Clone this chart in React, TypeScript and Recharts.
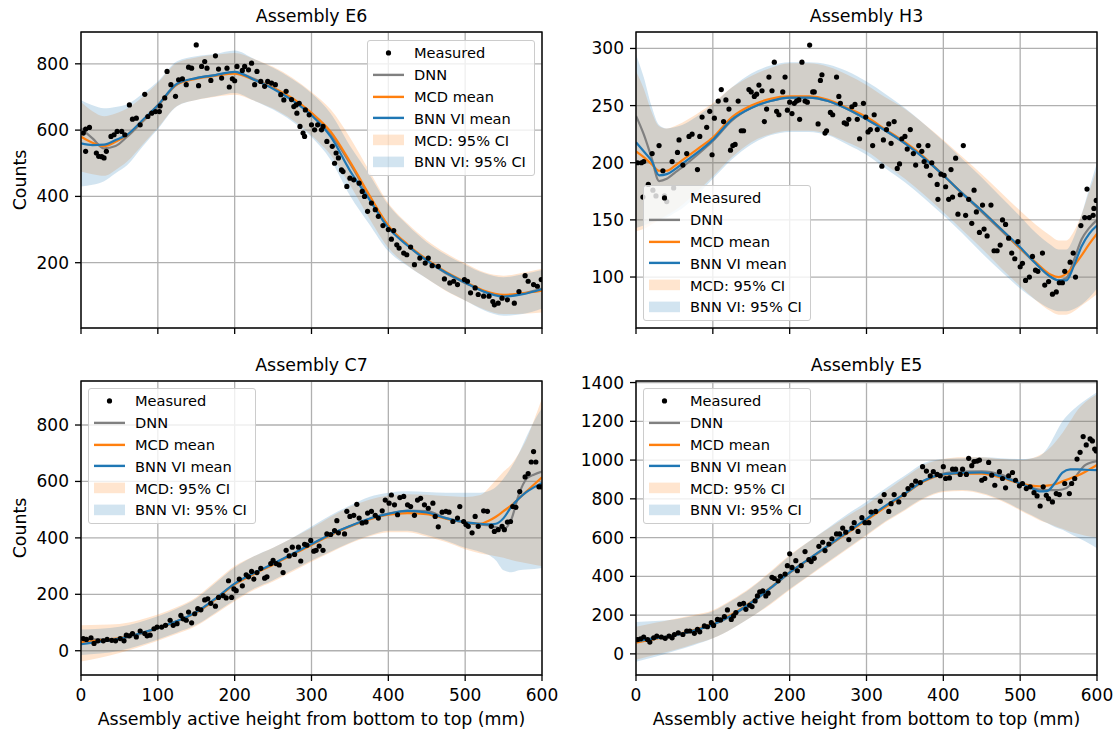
import React from "react";
import {
  ComposedChart,
  Line,
  Area,
  Scatter,
  XAxis,
  YAxis,
  CartesianGrid,
} from "recharts";

const FONT = "'DejaVu Sans', 'Liberation Sans', sans-serif";
const X_TICKS = [0, 100, 200, 300, 400, 500, 600];
const X_LABEL = "Assembly active height from bottom to top (mm)";
const Y_LABEL = "Counts";
const LEGEND_LABELS = ["Measured", "DNN", "MCD mean", "BNN VI mean", "MCD: 95% CI", "BNN VI: 95% CI"];

// ---- Assembly E6 ----
const e6X = [0, 15, 30, 45, 60, 80, 100, 125, 150, 175, 200, 225, 250, 275, 300, 325, 350, 375, 400, 425, 450, 475, 500, 525, 550, 575, 600];
const e6Dnn = [605, 575, 545, 552, 580, 625, 672, 738, 757, 766, 774, 755, 728, 692, 648, 588, 500, 400, 310, 252, 206, 168, 139, 113, 100, 107, 122];
const e6Mcd = [580, 562, 552, 565, 585, 628, 675, 738, 755, 764, 770, 752, 728, 696, 652, 595, 505, 405, 312, 255, 210, 172, 142, 115, 103, 108, 116];
const e6Bnn = [560, 555, 556, 570, 586, 630, 675, 740, 757, 766, 776, 752, 725, 690, 645, 580, 478, 392, 305, 252, 207, 170, 140, 112, 98, 105, 120];
const e6McdHi = [685, 657, 642, 650, 665, 700, 743, 803, 819, 827, 833, 815, 791, 758, 715, 662, 578, 478, 380, 318, 268, 229, 198, 171, 161, 170, 182];
const e6McdLo = [475, 467, 462, 480, 505, 556, 607, 673, 691, 701, 707, 689, 665, 631, 584, 525, 435, 335, 245, 192, 152, 115, 86, 59, 45, 46, 50];
const e6BnnHi = [690, 675, 666, 670, 678, 710, 747, 808, 823, 830, 840, 815, 788, 754, 711, 650, 553, 467, 375, 314, 262, 224, 194, 168, 156, 165, 178];
const e6BnnLo = [430, 435, 446, 470, 494, 550, 603, 672, 691, 702, 712, 689, 662, 626, 579, 510, 403, 317, 235, 190, 152, 116, 86, 56, 40, 45, 62];
const e6Measured: [number, number][] = [
  [3, 591], [6, 603], [11, 608], [6, 536], [20, 531], [23, 521], [27, 520], [30, 516], [33, 536], [39, 581],
  [43, 586], [47, 596], [53, 596], [57, 586], [63, 676], [67, 633], [72, 636], [77, 616], [83, 708], [87, 641],
  [92, 651], [97, 656], [102, 656], [103, 673], [109, 697], [112, 777], [117, 737], [123, 702], [127, 752], [132, 755],
  [137, 737], [140, 790], [144, 787], [150, 857], [153, 734], [157, 792], [161, 807], [164, 787], [169, 750], [175, 824],
  [179, 784], [183, 757], [190, 787], [193, 730], [197, 755], [200, 749], [203, 792], [210, 780], [213, 792], [218, 782],
  [222, 802], [226, 737], [229, 777], [234, 747], [239, 732], [243, 747], [248, 742], [253, 737], [260, 707], [264, 691],
  [267, 717], [274, 692], [277, 671], [280, 676], [284, 681], [281, 651], [285, 611], [289, 591], [291, 581], [292, 661],
  [297, 646], [300, 616], [304, 601], [308, 616], [313, 601], [315, 611], [320, 566], [327, 551], [330, 500], [332, 531],
  [335, 516], [339, 480], [341, 475], [346, 430], [350, 455], [355, 450], [362, 440], [366, 415], [369, 400], [373, 355],
  [378, 380], [383, 360], [387, 340], [393, 312], [400, 300], [404, 271], [407, 297], [411, 254], [414, 244], [420, 229],
  [424, 224], [429, 247], [434, 194], [441, 214], [448, 199], [452, 214], [457, 191], [465, 189], [473, 151], [480, 139],
  [485, 144], [490, 134], [499, 149], [503, 144], [507, 109], [513, 124], [517, 104], [524, 99], [531, 99], [536, 83],
  [538, 73], [543, 78], [548, 93], [555, 88], [564, 78], [570, 113], [578, 161], [582, 144], [589, 134], [594, 129], [599, 149],
];

// ---- Assembly H3 ----
const h3X = [0, 10, 20, 30, 40, 50, 60, 80, 100, 125, 150, 175, 200, 225, 250, 275, 300, 325, 350, 375, 400, 425, 450, 475, 500, 520, 540, 550, 560, 570, 580, 590, 600];
const h3Dnn = [241, 225, 205, 184, 186, 191, 196, 207, 219, 237, 248, 254, 257, 257, 254, 247, 238, 228, 217, 204, 189, 173, 157, 141, 125, 112, 100, 97, 99, 115, 133, 143, 150];
const h3Mcd = [210, 205, 199, 193, 193, 197, 202, 212, 222, 240, 250, 256, 258, 258, 255, 248, 240, 229, 218, 205, 189, 173, 158, 142, 125, 113, 102, 100, 103, 110, 119, 129, 138];
const h3Bnn = [218, 210, 202, 189, 190, 194, 199, 209, 220, 238, 248, 254, 257, 257, 254, 247, 238, 228, 217, 204, 189, 173, 158, 142, 126, 112, 100, 97, 97, 110, 127, 138, 145];
const h3McdHi = [280, 265, 245, 232, 230, 232, 235, 243, 252, 266, 276, 283, 287, 287, 284, 277, 268, 257, 247, 234, 220, 205, 190, 174, 158, 146, 136, 132, 132, 140, 155, 175, 195];
const h3McdLo = [140, 142, 146, 150, 154, 158, 163, 175, 188, 205, 218, 225, 228, 228, 225, 218, 210, 198, 186, 172, 157, 141, 125, 108, 92, 80, 70, 67, 67, 70, 75, 80, 85];
const h3BnnHi = [295, 275, 250, 233, 230, 231, 233, 241, 251, 266, 278, 285, 288, 288, 286, 280, 271, 260, 248, 234, 219, 203, 187, 170, 153, 139, 128, 124, 124, 135, 155, 178, 200];
const h3BnnLo = [143, 145, 148, 150, 152, 156, 160, 172, 186, 203, 216, 224, 227, 227, 224, 216, 207, 195, 183, 169, 154, 138, 121, 105, 90, 80, 72, 70, 70, 72, 76, 82, 90];
const h3Measured: [number, number][] = [
  [2, 200], [7, 200], [10, 201], [9, 170], [16, 181], [22, 176], [21, 208], [26, 171], [30, 215], [37, 171],
  [40, 166], [49, 178], [35, 193], [47, 201], [54, 209], [56, 220], [61, 198], [66, 208], [69, 223], [73, 225],
  [80, 194], [83, 223], [86, 240], [92, 231], [96, 245], [99, 207], [102, 239], [107, 254], [111, 264], [114, 236],
  [117, 255], [121, 247], [123, 211], [126, 215], [129, 216], [133, 254], [137, 228], [140, 228], [147, 264], [150, 262],
  [154, 258], [157, 260], [160, 268], [164, 263], [167, 236], [170, 247], [173, 275], [177, 263], [180, 288], [183, 245],
  [186, 242], [191, 262], [194, 275], [197, 246], [200, 253], [203, 243], [206, 252], [209, 254], [212, 255], [213, 238],
  [216, 288], [220, 254], [223, 253], [226, 303], [230, 262], [232, 262], [237, 234], [240, 272], [242, 277], [246, 226],
  [248, 228], [253, 244], [256, 242], [261, 275], [264, 258], [266, 252], [271, 235], [274, 234], [277, 238], [281, 249],
  [285, 251], [288, 238], [291, 221], [296, 252], [299, 240], [302, 227], [305, 229], [308, 215], [310, 242], [314, 229],
  [320, 197], [322, 220], [326, 229], [329, 234], [332, 217], [336, 236], [340, 195], [343, 199], [346, 221], [350, 223],
  [353, 212], [357, 229], [361, 208], [364, 198], [368, 215], [372, 210], [375, 201], [378, 197], [380, 215], [383, 189],
  [385, 200], [392, 181], [393, 168], [397, 190], [401, 189], [403, 179], [407, 168], [410, 194], [412, 170], [416, 204],
  [419, 155], [422, 172], [426, 215], [429, 154], [433, 168], [437, 147], [440, 176], [443, 157], [447, 139], [451, 163],
  [453, 142], [457, 136], [462, 163], [466, 123], [470, 123], [474, 128], [477, 150], [481, 146], [485, 134], [489, 121],
  [493, 116], [497, 131], [500, 109], [503, 112], [507, 97], [512, 100], [516, 118], [520, 106], [523, 105], [529, 121],
  [532, 93], [537, 96], [542, 85], [547, 87], [551, 95], [555, 95], [558, 105], [565, 113], [569, 121], [572, 100],
  [579, 145], [584, 152], [587, 177], [590, 152], [595, 154], [596, 160], [599, 167],
];

// ---- Assembly C7 ----
const c7X = [0, 25, 50, 75, 100, 125, 150, 175, 200, 225, 250, 275, 300, 325, 350, 375, 400, 425, 450, 475, 500, 520, 530, 540, 550, 560, 570, 580, 590, 600];
const c7Dnn = [42, 40, 42, 58, 80, 105, 136, 184, 237, 273, 307, 342, 377, 412, 441, 467, 486, 497, 495, 470, 455, 447, 445, 438, 432, 465, 555, 610, 625, 635];
const c7Mcd = [30, 37, 45, 60, 80, 104, 135, 182, 235, 272, 305, 340, 375, 410, 440, 465, 482, 488, 484, 468, 455, 450, 460, 475, 495, 515, 540, 565, 590, 615];
const c7Bnn = [23, 32, 43, 60, 80, 105, 137, 185, 238, 275, 308, 343, 378, 413, 442, 468, 485, 496, 490, 470, 455, 450, 448, 450, 470, 510, 540, 563, 580, 595];
const c7McdHi = [90, 92, 95, 108, 128, 155, 190, 245, 300, 335, 365, 400, 435, 475, 510, 535, 550, 555, 553, 548, 545, 552, 575, 605, 635, 660, 700, 750, 820, 895];
const c7McdLo = [-38, -25, -8, 12, 35, 60, 88, 130, 175, 215, 245, 280, 315, 348, 380, 405, 420, 420, 405, 385, 360, 345, 340, 335, 330, 322, 315, 310, 305, 300];
const c7BnnHi = [75, 78, 85, 100, 122, 150, 185, 240, 295, 335, 365, 400, 440, 480, 515, 545, 560, 565, 563, 560, 560, 560, 565, 580, 610, 650, 700, 760, 815, 860];
const c7BnnLo = [-15, -10, 0, 18, 40, 65, 92, 135, 180, 220, 250, 285, 320, 352, 383, 408, 425, 425, 410, 390, 365, 350, 340, 320, 285, 278, 285, 288, 290, 293];
const c7Measured: [number, number][] = [
  [3, 43], [7, 40], [13, 46], [17, 26], [22, 35], [29, 35], [34, 40], [40, 37], [45, 35], [51, 43],
  [56, 35], [59, 55], [63, 53], [67, 61], [72, 49], [77, 70], [83, 61], [86, 53], [90, 55], [95, 78],
  [99, 84], [105, 84], [110, 90], [116, 108], [120, 90], [125, 96], [130, 125], [133, 113], [137, 108], [140, 137],
  [144, 99], [148, 131], [152, 149], [156, 145], [161, 180], [165, 184], [169, 168], [175, 158], [179, 189], [185, 195],
  [189, 187], [192, 248], [196, 189], [199, 219], [202, 213], [206, 254], [210, 230], [215, 269], [218, 262], [222, 281],
  [225, 254], [229, 277], [234, 292], [239, 257], [242, 262], [247, 309], [250, 320], [254, 309], [258, 304], [263, 277],
  [267, 356], [271, 336], [275, 367], [278, 341], [283, 367], [286, 318], [291, 377], [294, 374], [299, 391], [303, 353],
  [306, 356], [310, 371], [315, 356], [320, 414], [325, 412], [330, 426], [333, 461], [335, 418], [343, 414], [346, 494],
  [350, 476], [355, 480], [359, 519], [362, 470], [366, 453], [371, 456], [373, 488], [378, 494], [383, 480], [387, 470],
  [392, 496], [396, 534], [401, 523], [404, 552], [408, 517], [412, 482], [415, 543], [420, 547], [425, 517], [429, 511],
  [434, 480], [438, 534], [442, 540], [447, 517], [452, 505], [458, 523], [461, 476], [465, 439], [470, 491], [475, 494],
  [479, 491], [484, 458], [490, 470], [493, 511], [498, 458], [501, 447], [504, 441], [509, 418], [513, 476], [517, 441],
  [524, 496], [529, 494], [534, 441], [538, 423], [543, 429], [548, 441], [551, 429], [555, 456], [559, 458], [562, 511],
  [566, 508], [571, 564], [578, 616], [582, 628], [586, 669], [589, 706], [592, 669], [596, 581], [599, 581],
];

// ---- Assembly E5 ----
const e5X = [0, 25, 50, 75, 100, 125, 150, 175, 200, 225, 250, 275, 300, 325, 350, 375, 400, 425, 450, 475, 500, 515, 525, 535, 545, 555, 565, 575, 585, 600];
const e5Dnn = [75, 82, 95, 120, 150, 198, 262, 338, 418, 488, 555, 625, 693, 762, 826, 893, 930, 940, 942, 925, 880, 858, 848, 845, 845, 848, 870, 930, 975, 995];
const e5Mcd = [58, 77, 98, 123, 155, 205, 268, 342, 420, 488, 557, 623, 690, 758, 825, 890, 925, 930, 930, 910, 880, 868, 865, 868, 875, 890, 905, 920, 940, 975];
const e5Bnn = [66, 80, 97, 120, 152, 200, 265, 340, 420, 490, 559, 628, 697, 765, 827, 895, 926, 934, 936, 915, 879, 855, 838, 840, 880, 935, 952, 952, 950, 948];
const e5McdHi = [140, 160, 180, 200, 225, 280, 345, 425, 510, 580, 645, 710, 770, 840, 910, 975, 1005, 1015, 1015, 1005, 1000, 1010, 1025, 1050, 1090, 1140, 1200, 1260, 1300, 1340];
const e5McdLo = [-30, -5, 20, 50, 80, 130, 190, 255, 330, 400, 470, 540, 610, 680, 740, 800, 835, 840, 825, 790, 740, 710, 690, 675, 660, 645, 630, 620, 610, 600];
const e5BnnHi = [165, 170, 178, 195, 220, 275, 340, 420, 505, 580, 650, 720, 785, 855, 920, 985, 1005, 1010, 1015, 1010, 1005, 1010, 1020, 1060, 1130, 1200, 1245, 1280, 1310, 1350];
const e5BnnLo = [-40, -15, 15, 45, 80, 130, 190, 260, 335, 405, 475, 545, 615, 685, 745, 805, 840, 845, 830, 795, 745, 715, 695, 675, 655, 640, 620, 600, 580, 545];
const e5Measured: [number, number][] = [
  [2, 74], [6, 78], [10, 87], [15, 74], [18, 61], [23, 83], [27, 92], [33, 87], [38, 80], [43, 92],
  [47, 83], [50, 100], [55, 109], [61, 100], [66, 118], [70, 118], [76, 106], [80, 126], [83, 114], [89, 144],
  [93, 140], [98, 161], [101, 147], [106, 178], [110, 175], [115, 192], [119, 227], [124, 178], [127, 196], [130, 213],
  [135, 256], [140, 261], [143, 230], [148, 251], [151, 244], [155, 273], [158, 299], [161, 320], [165, 325], [169, 299],
  [172, 313], [177, 395], [180, 389], [185, 377], [188, 400], [194, 412], [197, 455], [200, 516], [203, 446], [208, 481],
  [210, 429], [215, 455], [220, 528], [225, 486], [228, 476], [232, 493], [238, 555], [243, 576], [246, 533], [251, 567],
  [255, 594], [261, 619], [265, 619], [269, 649], [273, 628], [277, 590], [281, 649], [284, 677], [289, 632], [294, 703],
  [298, 677], [303, 677], [306, 732], [312, 735], [318, 787], [323, 822], [329, 735], [332, 775], [336, 822], [342, 784],
  [349, 822], [354, 853], [359, 870], [364, 891], [370, 884], [373, 966], [378, 943], [383, 919], [387, 940], [392, 926],
  [396, 919], [400, 966], [403, 905], [408, 908], [412, 953], [416, 953], [422, 926], [425, 953], [430, 926], [433, 1009],
  [437, 971], [440, 992], [444, 995], [447, 1000], [450, 896], [454, 905], [459, 988], [463, 922], [467, 870], [473, 940],
  [477, 905], [481, 857], [485, 919], [490, 936], [494, 896], [499, 867], [503, 879], [508, 853], [513, 862], [518, 832],
  [522, 815], [526, 763], [530, 862], [534, 818], [537, 801], [542, 784], [547, 827], [551, 822], [558, 879], [564, 827],
  [567, 879], [571, 905], [574, 1005], [578, 1040], [582, 1121], [586, 1078], [591, 1109], [594, 1099], [597, 1057], [599, 1047],
];

const COLORS = { dnn: "#808080", mcd: "#ff7f0e", bnn: "#1f77b4" };
const PLOT_W = 461;

function buildRows(xs: number[], dnn: number[], mcd: number[], bnn: number[], mcdLo: number[], mcdHi: number[], bnnLo: number[], bnnHi: number[]) {
  return xs.map((x, i) => ({
    x,
    dnn: dnn[i],
    mcd: mcd[i],
    bnn: bnn[i],
    mcdBand: [mcdLo[i], mcdHi[i]],
    bnnBand: [bnnLo[i], bnnHi[i]],
  }));
}

const MeasuredDot = (props: any) => {
  const { cx, cy } = props;
  if (cx == null || cy == null) return null;
  return <circle cx={cx} cy={cy} r={2.6} fill="#000" />;
};

interface PanelProps {
  left: number;
  top: number;
  h: number;
  yDomain: [number, number];
  yTicks: number[];
  rows: any[];
  measured: [number, number][];
  xLabels: boolean;
}

const Panel = ({ left, top, h, yDomain, yTicks, rows, measured, xLabels }: PanelProps) => {
  const pts = measured.map(([x, y]) => ({ x, y }));
  const tickStyle = { fill: "#000", fontSize: 17, fontFamily: FONT };
  return (
    <div style={{ position: "absolute", left: left - 80, top: top - 10 }}>
      <ComposedChart
        width={80 + PLOT_W + 30}
        height={10 + h + 40}
        data={rows}
        margin={{ top: 10, right: 30, bottom: 0, left: 0 }}
      >
        <CartesianGrid stroke="#b0b0b0" strokeWidth={1.3} />
        <XAxis
          type="number"
          dataKey="x"
          domain={[0, 600]}
          ticks={X_TICKS}
          interval={0}
          allowDataOverflow
          height={40}
          tickSize={6}
          tickMargin={8}
          axisLine={false}
          tickLine={{ stroke: "#000", strokeWidth: 1.3 }}
          tick={tickStyle}
          tickFormatter={xLabels ? (v: number) => String(v) : () => ""}
        />
        <YAxis
          type="number"
          domain={yDomain}
          ticks={yTicks}
          interval={0}
          allowDataOverflow
          width={80}
          tickSize={6}
          tickMargin={6}
          axisLine={false}
          tickLine={{ stroke: "#000", strokeWidth: 1.3 }}
          tick={tickStyle}
        />
        <Area dataKey="mcdBand" type="monotone" stroke="none" fill={COLORS.mcd} fillOpacity={0.2} isAnimationActive={false} />
        <Area dataKey="bnnBand" type="monotone" stroke="none" fill={COLORS.bnn} fillOpacity={0.2} isAnimationActive={false} />
        <Scatter data={pts} dataKey="y" shape={MeasuredDot} isAnimationActive={false} />
        <Line dataKey="dnn" type="monotone" stroke={COLORS.dnn} strokeWidth={2.2} dot={false} activeDot={false} isAnimationActive={false} />
        <Line dataKey="mcd" type="monotone" stroke={COLORS.mcd} strokeWidth={2.2} dot={false} activeDot={false} isAnimationActive={false} />
        <Line dataKey="bnn" type="monotone" stroke={COLORS.bnn} strokeWidth={2.2} dot={false} activeDot={false} isAnimationActive={false} />
      </ComposedChart>
    </div>
  );
};

const LegendBox = ({ left, top }: { left: number; top: number }) => {
  const row = 21.8;
  const handle = (i: number) => {
    if (i === 0) return <circle cx={20.5} cy={row / 2} r={2.6} fill="#000" />;
    if (i <= 3) {
      const c = [COLORS.dnn, COLORS.mcd, COLORS.bnn][i - 1];
      return <line x1={5} x2={36} y1={row / 2} y2={row / 2} stroke={c} strokeWidth={2.4} />;
    }
    const c = i === 4 ? COLORS.mcd : COLORS.bnn;
    return <rect x={5} y={row / 2 - 5.3} width={31} height={10.6} fill={c} fillOpacity={0.2} />;
  };
  return (
    <div
      style={{
        position: "absolute",
        left,
        top,
        width: 168,
        height: 136,
        boxSizing: "border-box",
        border: "1px solid #cccccc",
        borderRadius: 3,
        background: "rgba(255,255,255,0.8)",
        fontFamily: FONT,
        fontSize: 14.6,
        color: "#000",
        paddingTop: 1,
      }}
    >
      {LEGEND_LABELS.map((label, i) => (
        <div key={label} style={{ height: row, display: "flex", alignItems: "center" }}>
          <svg width={46} height={row} style={{ flex: "none" }}>
            {handle(i)}
          </svg>
          <span style={{ whiteSpace: "nowrap" }}>{label}</span>
        </div>
      ))}
    </div>
  );
};

const PANELS = [
  { title: "Assembly E6", left: 81, top: 32, h: 296, yDomain: [3, 896] as [number, number], yTicks: [200, 400, 600, 800],
    rows: buildRows(e6X, e6Dnn, e6Mcd, e6Bnn, e6McdLo, e6McdHi, e6BnnLo, e6BnnHi), measured: e6Measured, xLabels: false, yLabel: true, legend: { left: 367, top: 40 } },
  { title: "Assembly H3", left: 636, top: 32, h: 296, yDomain: [55.4, 314.4] as [number, number], yTicks: [100, 150, 200, 250, 300],
    rows: buildRows(h3X, h3Dnn, h3Mcd, h3Bnn, h3McdLo, h3McdHi, h3BnnLo, h3BnnHi), measured: h3Measured, xLabels: false, yLabel: false, legend: { left: 643, top: 185 } },
  { title: "Assembly C7", left: 81, top: 381, h: 294, yDomain: [-86, 956] as [number, number], yTicks: [0, 200, 400, 600, 800],
    rows: buildRows(c7X, c7Dnn, c7Mcd, c7Bnn, c7McdLo, c7McdHi, c7BnnLo, c7BnnHi), measured: c7Measured, xLabels: true, yLabel: true, legend: { left: 88, top: 388 } },
  { title: "Assembly E5", left: 636, top: 381, h: 294, yDomain: [-109, 1408] as [number, number], yTicks: [0, 200, 400, 600, 800, 1000, 1200, 1400],
    rows: buildRows(e5X, e5Dnn, e5Mcd, e5Bnn, e5McdLo, e5McdHi, e5BnnLo, e5BnnHi), measured: e5Measured, xLabels: true, yLabel: false, legend: { left: 643, top: 388 } },
];

export default function App() {
  return (
    <div style={{ position: "absolute", left: 0, top: 0, width: 1117, height: 734, background: "#fff", overflow: "hidden" }}>
      {PANELS.map((p) => (
        <Panel key={p.title} left={p.left} top={p.top} h={p.h} yDomain={p.yDomain} yTicks={p.yTicks} rows={p.rows} measured={p.measured} xLabels={p.xLabels} />
      ))}
      <svg width={1117} height={734} style={{ position: "absolute", left: 0, top: 0, pointerEvents: "none" }} fontFamily={FONT}>
        {PANELS.map((p) => (
          <g key={p.title}>
            <rect x={p.left} y={p.top} width={PLOT_W} height={p.h} fill="none" stroke="#000" strokeWidth={1.4} />
            <text x={p.left + PLOT_W / 2} y={p.top - 10.5} textAnchor="middle" fontSize={17.4} fill="#000">
              {p.title}
            </text>
            {p.xLabels && (
              <text x={p.left + PLOT_W / 2} y={725} textAnchor="middle" fontSize={17.4} fill="#000">
                {X_LABEL}
              </text>
            )}
            {p.yLabel && (
              <text
                x={0}
                y={0}
                transform={`translate(25.5, ${p.top + p.h / 2}) rotate(-90)`}
                textAnchor="middle"
                fontSize={17.4}
                fill="#000"
              >
                {Y_LABEL}
              </text>
            )}
          </g>
        ))}
      </svg>
      {PANELS.map((p) => (
        <LegendBox key={p.title} left={p.legend.left} top={p.legend.top} />
      ))}
    </div>
  );
}
